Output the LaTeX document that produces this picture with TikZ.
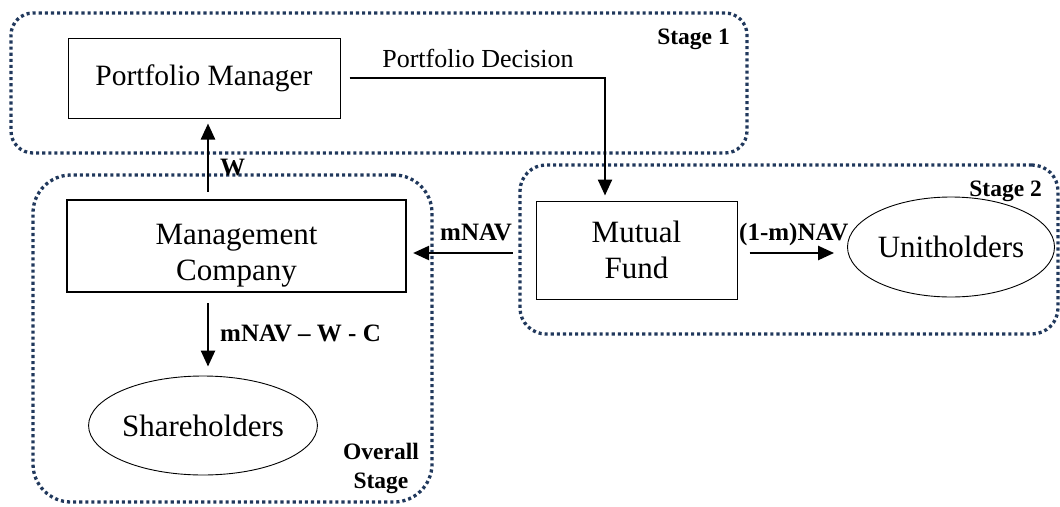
\documentclass[tikz,border=0pt]{standalone}
\usepackage{fontspec}
\setmainfont{Liberation Serif}
\usetikzlibrary{arrows.meta,positioning,calc,shapes.geometric}
\definecolor{stageblue}{RGB}{32,56,92}

\begin{document}
\begin{tikzpicture}[x=1pt,y=-1pt,>={Triangle[length=16pt,width=14pt]}]
  \tikzstyle{stagebox}=[draw=stageblue,line width=3.3pt,dash pattern=on 3.1pt off 3pt,inner sep=0pt]
  \tikzstyle{block}=[draw,line width=1pt,inner sep=0pt,align=center,font=\fontsize{31}{36}\selectfont]
  \tikzstyle{holders}=[draw,ellipse,line width=0.9pt,inner sep=0pt,font=\fontsize{31}{36}\selectfont]
  \tikzstyle{flow}=[->,line width=2.4pt]
  \tikzstyle{lbl}=[inner sep=0pt,font=\bfseries\fontsize{25}{29}\selectfont]
  \tikzstyle{stagelbl}=[inner sep=0pt,align=center,font=\bfseries\fontsize{23.5}{29}\selectfont]

  \useasboundingbox (0,0) rectangle (1060,506);

  \node[stagebox,rounded corners=22pt,minimum width=736pt,minimum height=140pt] (stage1) at (379,83) {};
  \node[stagebox,rounded corners=38pt,minimum width=399pt,minimum height=327pt] (overall) at (232.5,338.5) {};
  \node[stagebox,rounded corners=26pt,minimum width=538pt,minimum height=169pt] (stage2) at (789,249.5) {};

  \node[block,minimum width=272pt,minimum height=80pt,font=\fontsize{29.5}{34}\selectfont] (pm) at (204,78) {Portfolio Manager};
  \node[block,line width=2.2pt,minimum width=339pt,minimum height=92pt] (mc) at (236.5,246) {\rule{0pt}{40pt}Management\\Company};
  \node[block,minimum width=201pt,minimum height=98pt] (mf) at (636.5,250) {Mutual\\Fund};
  \node[holders,minimum width=196pt,minimum height=100pt] (uh) at (951,247) {Unitholders};
  \node[holders,minimum width=224pt,minimum height=99pt] (sh) at (203,425.5) {Shareholders};

  \node[lbl,anchor=base west] (wlbl) at (220,175) {W};
  \node[lbl,anchor=base west] (mnavlbl) at (440,240) {mNAV};
  \node[lbl,anchor=base west] (unavlbl) at (739,240) {(1-m)NAV};
  \node[lbl,anchor=base west] (shlbl) at (220,341) {mNAV -- W - C};
  \node[inner sep=0pt,anchor=base,font=\fontsize{26}{30}\selectfont] (pdlbl) at (478,67) {Portfolio Decision};
  \node[stagelbl,anchor=base east] (s1lbl) at (730,44) {Stage 1};
  \node[stagelbl,anchor=base east] (s2lbl) at (1042,196) {Stage 2};
  \node[stagelbl] (ovlbl) at (381,468) {Overall\\Stage};

  \coordinate (pdturn) at (605,78);
  \draw[flow,shorten <=9pt,shorten >=5pt] (pm.east) -- (pdturn) -- (pdturn |- mf.north);

  \draw[flow,shorten <=7pt,shorten >=5pt] ($(pm.south |- mc.north)+(4,0)$) -- ($(pm.south)+(4,0)$);
  \draw[flow,shorten <=23pt,shorten >=6pt] ($(mf.west)+(0,3)$) -- ($(mf.west -| mc.east)+(0,3)$);
  \draw[flow,shorten <=12pt,shorten >=13pt] ($(mf.east)+(0,3)$) -- ($(mf.east -| uh.west)+(0,3)$);
  \draw[flow,shorten <=10pt,shorten >=9pt] ($(mc.south -| sh.north)+(5,0)$) -- ($(sh.north)+(5,0)$);
\end{tikzpicture}
\end{document}
